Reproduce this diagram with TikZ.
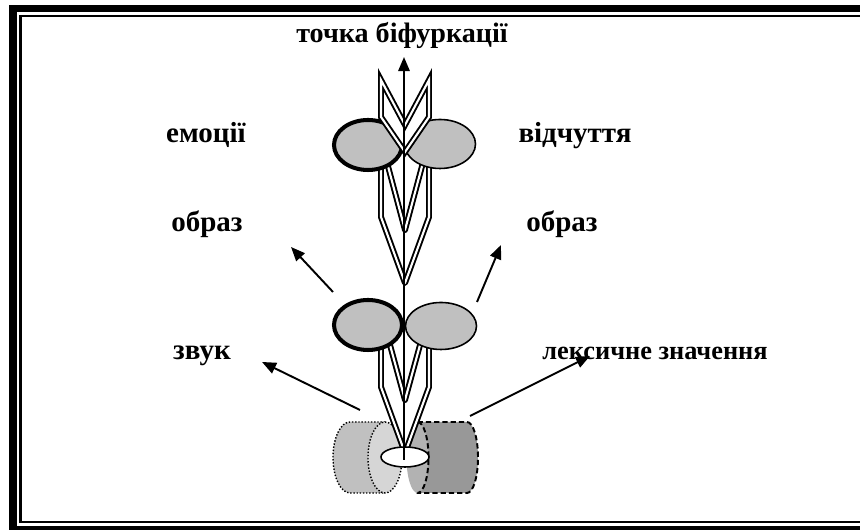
\documentclass[tikz,border=0pt]{standalone}
\usepackage{fontspec}
\setmainfont{Liberation Serif}
\usetikzlibrary{arrows.meta}
\definecolor{ovalgray}{RGB}{192,192,192}
\definecolor{cylback}{RGB}{192,192,192}
\definecolor{cylface}{RGB}{214,214,214}
\definecolor{cyldark}{RGB}{152,152,152}
\definecolor{cylmid}{RGB}{178,178,178}
\begin{document}
\begin{tikzpicture}[x=0.02cm,y=0.02cm,>={Triangle[length=8pt,width=6.5pt]},
  lbl/.style={font=\fontsize{16.5}{19}\selectfont\bfseries,anchor=base},
  ear/.style={draw,fill=white,double,line width=1.1pt,double distance=1.2pt},
  oval/.style={draw,fill=ovalgray,line width=0.9pt},
  boldoval/.style={draw,fill=ovalgray,line width=2.3pt},
  ptr/.style={->,line width=1.1pt}]
\useasboundingbox (0,0) rectangle (860,530);
\clip (0,0) rectangle (860,530);

% frame
\draw[line width=4.5pt] (920,521.5) -- (13,521.5) -- (13,0) -- (920,0);
\draw[line width=1.4pt] (920,514) -- (20.5,514) -- (20.5,8) -- (920,8);

% cylinders
\draw[fill=cylback,line width=0.8pt,dash pattern=on 0.8pt off 1pt]
  (385,108) -- (350,108) arc[start angle=90,end angle=270,x radius=17,y radius=35.5] -- (385,37) -- cycle;
\draw[fill=cylface,line width=0.8pt,dash pattern=on 0.8pt off 1pt] (385,72.5) ellipse (17 and 35.5);
\draw[fill=cyldark,line width=1.1pt,dash pattern=on 3pt off 1.7pt]
  (417.5,108) -- (467,108) arc[start angle=90,end angle=-90,x radius=11,y radius=35.5] -- (417.5,37) -- cycle;
\fill[cylmid] (417.5,72.5) ellipse (11 and 35.5);
\draw[line width=1.1pt,dash pattern=on 3pt off 1.7pt]
  (417.5,108) arc[start angle=90,end angle=-90,x radius=11,y radius=35.5];

% ears
\draw[ear,line join=round] (381,218) -- (405,130) -- (429,218) -- (429,143) -- (405,77) -- (381,143) -- cycle;
\draw[fill=white,line width=0.9pt] (405,73) ellipse (24 and 10);
\draw[ear,line join=round] (381,390) -- (405,300) -- (429,390) -- (429,313) -- (405,247) -- (381,313) -- cycle;

% ovals
\draw[boldoval] (368,205) ellipse (34 and 25);
\draw[oval] (441,204) ellipse (35.5 and 23.5);
\draw[boldoval] (368,385) ellipse (34 and 25);
\draw[oval] (440,386) ellipse (35.5 and 24.5);

\draw[ear] (381,450) -- (405,405) -- (429,450) -- (429,413) -- (405,378) -- (381,413) -- cycle;

% stem
\draw[->,line width=1pt] (404,70) -- (404,473);

% labels
\node[lbl,font=\fontsize{16}{19}\selectfont\bfseries] (bif) at (402,487) {точка біфуркації};
\node[lbl] (emo) at (206,387) {емоції};
\node[lbl] (vidch) at (575,387) {відчуття};
\node[lbl] (obrL) at (207,298) {образ};
\node[lbl] (obrR) at (562,298) {образ};
\node[lbl] (zvuk) at (202,170) {звук};
\node[lbl,font=\fontsize{15}{19}\selectfont\bfseries] (leks) at (655,170) {лексичне значення};

% pointers
\coordinate (p1) at (333,238);
\coordinate (q1) at (291,283);
\coordinate (p2) at (477,228);
\coordinate (q2) at (501,285);
\coordinate (p3) at (360,120);
\coordinate (q3) at (262,168);
\coordinate (p4) at (470,114);
\coordinate (q4) at (590,174);
\draw[ptr] (p1) -- (q1);
\draw[ptr] (p2) -- (q2);
\draw[ptr] (p3) -- (q3);
\draw[ptr] (p4) -- (q4);
\end{tikzpicture}
\end{document}
